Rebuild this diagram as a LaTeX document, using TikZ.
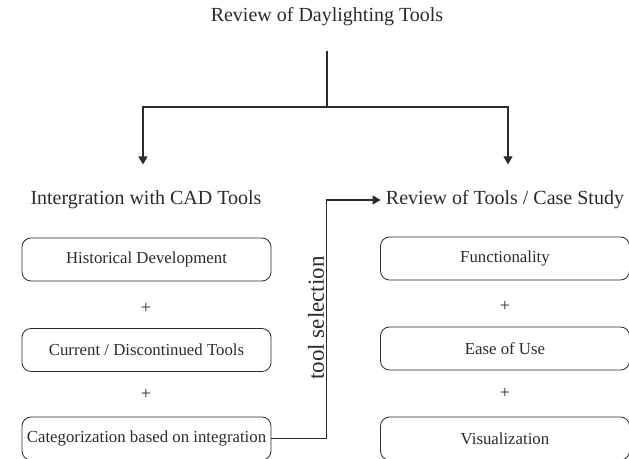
\documentclass[tikz,border=0pt]{standalone}
\usepackage{fontspec}
\setmainfont{Liberation Serif}
\definecolor{InkGray}{HTML}{2B2B2B}
\usetikzlibrary{arrows.meta, positioning, calc}

\tikzset{
  heading/.style={font=\fontsize{10}{12}\selectfont, text=InkGray, inner sep=1pt},
  stepbox/.style={draw=InkGray, rounded corners=4.5pt, minimum width=124.5pt, minimum height=21.5pt, font=\fontsize{8.4}{10}\selectfont, text=InkGray, inner sep=1pt},
  plus/.style={font=\fontsize{9}{10}\selectfont, text=InkGray},
  link/.style={draw=InkGray, line width=0.6pt},
  linkarrow/.style={link, -{Triangle[length=4pt, width=4.5pt]}}
}

\begin{document}
\begin{tikzpicture}[x=0.5pt, y=-0.5pt]
        \useasboundingbox (0,0) rectangle (629,459);

        % Top level
        \node[heading] (title) at (327,17) {Review of Daylighting Tools};
        \coordinate (split) at (327,107);

        % Two branches
        \node[heading] (lhead) at (146,200) {Intergration with CAD Tools};
        \node[heading] (rhead) at (505,200) {Review of Tools / Case Study};

        % Left column
        \node[stepbox] (hist) at (146.5,259.5) {Historical Development};
        \node[plus] (lp1) at (146,308) {+};
        \node[stepbox] (curr) at (146.5,350) {Current / Discontinued Tools};
        \node[plus] (lp2) at (146,394) {+};
        \node[stepbox] (cat) at (146.5,438.5) {Categorization based on integration};

        % Right column
        \node[stepbox] (func) at (505,258.5) {Functionality};
        \node[plus] (rp1) at (505,306) {+};
        \node[stepbox] (ease) at (505,348.5) {Ease of Use};
        \node[plus] (rp2) at (505,393) {+};
        \node[stepbox] (vis) at (505,438.5) {Visualization};

        % Connectors
        \draw[link] ($(title.south)+(0,22)$) -- (split);
        \draw[linkarrow, shorten >=12pt] (split) -| ($(lhead.north)+(-3,0)$);
        \draw[linkarrow, shorten >=12pt] (split) -| ($(rhead.north)+(3,0)$);
        \draw[linkarrow] (cat.east) -- ++(55,0) |- ($(rhead.west)+(-3,0)$);

        % Label on the selection link
        \node[heading, rotate=90, font=\fontsize{11.5}{14}\selectfont] (sel) at (316,318) {tool selection};
    \end{tikzpicture}
\end{document}
